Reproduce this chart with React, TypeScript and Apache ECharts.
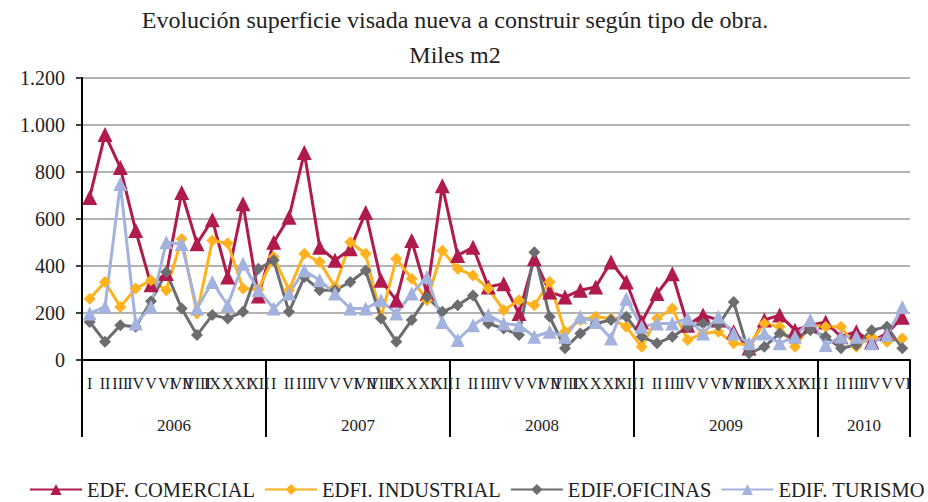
import React, { useEffect, useRef } from "react";
import * as echarts from "echarts";

const months = ["I", "II", "III", "IV", "V", "VI", "VII", "VIII", "IX", "X", "XI", "XII"];
const years = ["2006", "2007", "2008", "2009", "2010"];
const monthsPerYear = [12, 12, 12, 12, 6];

const comercial = [
  692, 960, 819, 551, 320, 368, 713, 495, 597, 353, 665, 272,
  501, 607, 883, 480, 424, 473, 628, 339, 254, 508, 283, 741,
  445, 480, 311, 325, 198, 431, 289, 268, 297, 311, 417, 332,
  162, 283, 367, 148, 191, 170, 120, 51, 170, 191, 127, 148,
  162, 99, 120, 78, 113, 182,
];
const industrial = [
  261, 332, 226, 304, 339, 297, 515, 198, 508, 497, 304, 300,
  438, 297, 452, 417, 311, 501, 452, 180, 431, 346, 254, 465,
  388, 360, 304, 212, 254, 233, 332, 120, 170, 184, 177, 141,
  56, 177, 219, 85, 113, 120, 71, 64, 155, 141, 56, 148,
  141, 141, 56, 99, 78, 92,
];
const oficinas = [
  162, 78, 148, 141, 250, 374, 219, 106, 191, 177, 205, 388,
  424, 205, 353, 297, 297, 332, 381, 177, 78, 170, 268, 205,
  233, 275, 155, 134, 106, 459, 184, 50, 113, 155, 170, 184,
  99, 71, 99, 141, 155, 148, 247, 28, 56, 113, 92, 127,
  99, 50, 64, 127, 141, 50,
];
const turismo = [
  198, 226, 749, 155, 226, 501, 494, 219, 332, 233, 410, 297,
  219, 283, 381, 339, 283, 219, 219, 254, 198, 283, 353, 162,
  85, 148, 191, 155, 148, 99, 120, 99, 184, 162, 92, 261,
  141, 155, 155, 177, 113, 184, 113, 71, 113, 71, 99, 170,
  64, 99, 99, 71, 106, 226,
];

const seriesNames = ["EDF. COMERCIAL", "EDFI. INDUSTRIAL", "EDIF.OFICINAS", "EDIF. TURISMO"];
const titleText = "Evolución superficie visada nueva a construir según tipo de obra.";
const subtitleText = "Miles m2";

const FONT = "Liberation Serif";

export default function App() {
  const ref = useRef<HTMLDivElement>(null);
  useEffect(() => {
    if (!ref.current) return;
    const chart = echarts.init(ref.current, null, { renderer: "svg" });

    const categories: string[] = [];
    monthsPerYear.forEach((n) => {
      for (let i = 0; i < n; i++) categories.push(months[i]);
    });
    const bounds: number[] = [0];
    monthsPerYear.forEach((n) => bounds.push(bounds[bounds.length - 1] + n));
    const mids: number[] = monthsPerYear.map((n, i) => bounds[i] + n / 2);
    const total = bounds[bounds.length - 1];

    const mk = (name: string, data: number[], color: string, symbol: string, size: number) => ({
      name,
      type: "line",
      data,
      xAxisIndex: 0,
      yAxisIndex: 0,
      symbol,
      symbolSize: size,
      itemStyle: { color },
      lineStyle: { color, width: 3 },
      emphasis: { disabled: true },
    });

    chart.setOption({
      animation: false,
      backgroundColor: "#ffffff",
      title: {
        text: titleText + "\n" + subtitleText,
        left: 455,
        textAlign: "center",
        top: 2,
        padding: 0,
        textStyle: {
          fontFamily: FONT,
          fontSize: 24,
          fontWeight: "normal",
          color: "#222",
          lineHeight: 35,
        },
      },
      legend: {
        left: 24,
        top: 474,
        width: 1200,
        itemWidth: 52,
        itemHeight: 14,
        itemGap: 9,
        textStyle: { fontFamily: FONT, fontSize: 20.5, color: "#222" },
        data: seriesNames,
      },
      grid: { left: 82, right: 18, top: 78, bottom: 142, containLabel: false },
      xAxis: [
        {
          type: "category",
          data: categories,
          boundaryGap: true,
          axisLine: { show: true, lineStyle: { color: "#000", width: 2 } },
          axisTick: { show: false },
          axisLabel: {
            interval: 0,
            fontFamily: FONT,
            fontSize: 16,
            color: "#222",
            margin: 15,
          },
          splitLine: { show: false },
        },
        {
          type: "value",
          position: "bottom",
          min: 0,
          max: total,
          axisLine: { show: false },
          axisTick: {
            show: true,
            customValues: bounds,
            length: 77,
            lineStyle: { color: "#000", width: 2 },
          },
          axisLabel: {
            show: true,
            customValues: mids,
            formatter: (v: number) => {
              const idx = mids.findIndex((m) => Math.abs(m - v) < 0.01);
              return idx >= 0 ? years[idx] : "";
            },
            fontFamily: FONT,
            fontSize: 17,
            color: "#222",
            margin: 57,
          },
          splitLine: { show: false },
        },
      ],
      yAxis: {
        type: "value",
        min: 0,
        max: 1200,
        interval: 200,
        axisLine: { show: true, lineStyle: { color: "#000", width: 2 } },
        axisTick: { show: true, length: 6, lineStyle: { color: "#000", width: 1.5 } },
        axisLabel: {
          fontFamily: FONT,
          fontSize: 20,
          color: "#222",
          margin: 17,
          formatter: (v: number) =>
            v >= 1000 ? `${Math.floor(v / 1000)}.${String(v % 1000).padStart(3, "0")}` : String(v),
        },
        splitLine: { show: true, lineStyle: { color: "#9a9a9a", width: 1.5 } },
      },
      series: [
        mk(seriesNames[0], comercial, "#B01A4C", "triangle", 15),
        mk(seriesNames[1], industrial, "#FFB21E", "diamond", 12),
        mk(seriesNames[2], oficinas, "#6B6D70", "diamond", 12),
        mk(seriesNames[3], turismo, "#A3B3DD", "triangle", 14),
      ],
    });
    return () => chart.dispose();
  }, []);
  return (
    <div
      ref={ref}
      style={{ position: "fixed", left: 0, top: 0, width: 928, height: 502, background: "#fff" }}
    />
  );
}
